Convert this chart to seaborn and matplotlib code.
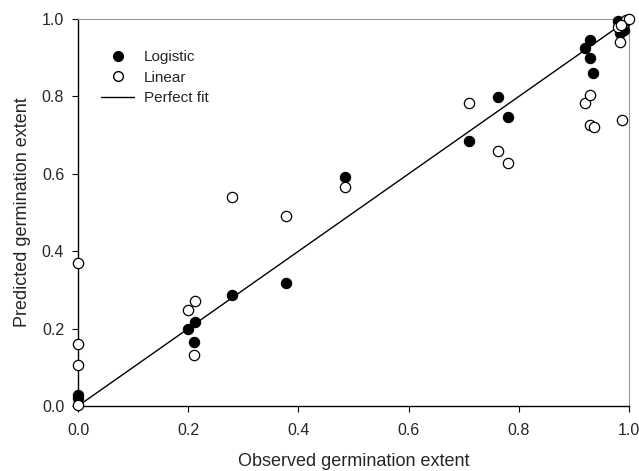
import numpy as np
import pandas as pd
import seaborn as sns
import matplotlib
matplotlib.use("Agg")
import matplotlib.pyplot as plt
from matplotlib.lines import Line2D

# observed vs predicted germination extent
obs_logistic = [0.0, 0.0, 0.20, 0.213, 0.21, 0.28, 0.377, 0.485, 0.71, 0.762,
                0.781, 0.92, 0.929, 0.929, 0.935, 0.98, 0.984, 0.99]
pred_logistic = [0.02, 0.028, 0.198, 0.218, 0.165, 0.287, 0.318, 0.593, 0.685, 0.799,
                 0.747, 0.925, 0.946, 0.90, 0.861, 0.995, 0.964, 0.972]

obs_linear = [0.0, 0.0, 0.0, 0.0, 0.20, 0.213, 0.21, 0.28, 0.377, 0.485,
              0.71, 0.762, 0.781, 0.92, 0.929, 0.929, 0.936, 0.987, 0.984,
              0.98, 0.99, 0.995, 1.0, 0.985]
pred_linear = [0.369, 0.16, 0.106, 0.002, 0.248, 0.271, 0.131, 0.54, 0.491, 0.567,
               0.784, 0.659, 0.628, 0.784, 0.804, 0.727, 0.722, 0.74, 0.941,
               0.98, 0.99, 0.997, 1.0, 0.985]

legend_labels = ["Logistic", "Linear", "Perfect fit"]
ticks = [0.0, 0.2, 0.4, 0.6, 0.8, 1.0]

sns.set_theme(style="ticks")
plt.rcParams['font.family'] = ['Liberation Sans', 'DejaVu Sans']

fig = plt.figure(figsize=(6.39, 4.71), dpi=100)
ax = fig.add_axes([0.1221, 0.138, 0.8623, 0.8215])

# 1:1 line
ax.plot([0, 1], [0, 1], color="black", lw=1.0, zorder=1)

df_log = pd.DataFrame({"obs": obs_logistic, "pred": pred_logistic})
df_lin = pd.DataFrame({"obs": obs_linear, "pred": pred_linear})

sns.scatterplot(data=df_log, x="obs", y="pred", ax=ax, s=55, color="black",
                edgecolor="black", linewidth=0.8, zorder=3, clip_on=False)
sns.scatterplot(data=df_lin, x="obs", y="pred", ax=ax, s=55, facecolor="white",
                edgecolor="black", linewidth=0.9, zorder=4, clip_on=False)

ax.set_xlim(0, 1)
ax.set_ylim(0, 1)
ax.set_xticks(ticks)
ax.set_yticks(ticks)
ax.set_xticklabels([f"{t:.1f}" for t in ticks])
ax.set_yticklabels([f"{t:.1f}" for t in ticks])
ax.tick_params(labelsize=11.5, length=4, width=0.8, color="black")
ax.tick_params(axis="x", pad=8)
ax.tick_params(axis="y", pad=6)

ax.set_xlabel("Observed germination extent", fontsize=13, labelpad=11)
ax.set_ylabel("Predicted germination extent", fontsize=13, labelpad=8)

for side in ["left", "bottom"]:
    ax.spines[side].set_color("black")
    ax.spines[side].set_linewidth(1.0)
for side in ["top", "right"]:
    ax.spines[side].set_color("#999999")
    ax.spines[side].set_linewidth(0.8)

handles = [
    Line2D([], [], marker="o", ls="", markerfacecolor="black", markeredgecolor="black", markersize=7),
    Line2D([], [], marker="o", ls="", markerfacecolor="white", markeredgecolor="black", markersize=7),
    Line2D([], [], color="black", lw=1.0),
]
ax.legend(handles, legend_labels, loc="upper left", bbox_to_anchor=(0.017, 0.955),
          frameon=False, fontsize=11, handlelength=2.15, labelspacing=0.42,
          handletextpad=0.65)

fig.savefig("out.png", dpi=100)
